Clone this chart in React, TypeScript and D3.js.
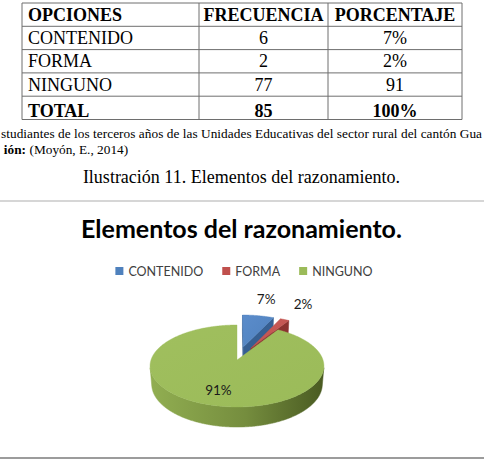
import React from "react";
import * as d3 from "d3";

// ---------- data ----------
const tableHeaders = ["OPCIONES", "FRECUENCIA", "PORCENTAJE"];
const options = ["CONTENIDO", "FORMA", "NINGUNO"];
const frequencies = ["6", "2", "77"];
const percentages = ["7%", "2%", "91"];
const totalRow = ["TOTAL", "85", "100%"];

const pieCategories = ["CONTENIDO", "FORMA", "NINGUNO"];
const pieValues = [7, 2, 91];
const pieLabels = ["7%", "2%", "91%"];

const sourceText =
  "studiantes  de los terceros años de las Unidades Educativas del sector rural del cantón Gua";
const authorLabel = "ión:";
const authorText = "(Moyón, E., 2014)";
const figureCaption = "Ilustración 11. Elementos del razonamiento.";
const chartTitle = "Elementos del razonamiento.";

// ---------- style / layout ----------
const W = 484;
const H = 468;
const topColors = ["#4F81BD", "#C0504D", "#9BBB59"];
const topColorsLight = ["#5b8ccb", "#c95d5a", "#a0bf5e"];
const wallColors = ["#365f92", "#8c3230", "#6f8a3c"];
const sideStops = [
  ["#4a78b0", "#2f5283"],
  ["#b04845", "#7e2c2a"],
  ["#91ae51", "#4a5b22"],
];
const explode = [0.35, 0.35, 0];
const labelR = [1.65, 1.65, 0.7];

const PIE = { cx: 237, cy: 360, rx: 86, dist: 6.05, sinPhi: 0.4665, depth: 0.2415 };
const cosPhi = Math.sqrt(1 - PIE.sinPhi * PIE.sinPhi);
const FOC = PIE.rx * PIE.dist;

function proj(x: number, y: number, z: number): [number, number] {
  const zp = PIE.dist - y * PIE.sinPhi + z * cosPhi;
  const yp = y * cosPhi + z * PIE.sinPhi;
  return [PIE.cx + (FOC * x) / zp, PIE.cy - (FOC * yp) / zp];
}

const line = d3.line<[number, number]>();

function buildSlices() {
  const arcs = d3
    .pie<number>()
    .sort(null)
    .value((d) => d)
    .startAngle(0)
    .endAngle(2 * Math.PI)(pieValues);
  return arcs.map((a, i) => {
    const a0 = a.startAngle;
    const a1 = a.endAngle;
    const m = (a0 + a1) / 2;
    const e = explode[i];
    const ox = e * Math.sin(m);
    const oz = e * Math.cos(m);
    const rim = (t: number, y: number) => proj(Math.sin(t) + ox, y, Math.cos(t) + oz);
    const ctr = (y: number) => proj(ox, y, oz);
    const n = Math.max(2, Math.ceil((a1 - a0) / (Math.PI / 360)));
    const ts = d3.range(n + 1).map((k) => a0 + ((a1 - a0) * k) / n);
    const top = line([ctr(0), ...ts.map((t) => rim(t, 0))]) + "Z";
    const d = -PIE.depth;
    const Dc = PIE.dist * cosPhi;
    const walls: string[] = [];
    let run: number[] = [];
    const flush = () => {
      if (run.length > 1) {
        const pts = [
          ...run.map((t) => rim(t, 0)),
          ...run
            .slice()
            .reverse()
            .map((t) => rim(t, d)),
        ];
        walls.push(line(pts as [number, number][]) + "Z");
      }
      run = [];
    };
    ts.forEach((t) => {
      const vis = -1 - ox * Math.sin(t) - (Dc + oz) * Math.cos(t) > 0;
      if (vis) run.push(t);
      else flush();
    });
    flush();
    const radial: string[] = [];
    const startVis = ox * Math.cos(a0) - (Dc + oz) * Math.sin(a0) > 1e-6;
    const endVis = -ox * Math.cos(a1) + (Dc + oz) * Math.sin(a1) > 1e-6;
    if (startVis) radial.push(line([ctr(0), rim(a0, 0), rim(a0, d), ctr(d)]) + "Z");
    if (endVis) radial.push(line([ctr(0), rim(a1, 0), rim(a1, d), ctr(d)]) + "Z");
    const lr = labelR[i] + e;
    const lp = proj(lr * Math.sin(m), 0, lr * Math.cos(m));
    return { i, top, walls, radial, lp };
  });
}

function measure(text: string, font: string) {
  const c = document.createElement("canvas").getContext("2d");
  if (!c) return text.length * 7;
  c.font = font;
  return c.measureText(text).width;
}

export default function App() {
  const slices = buildSlices();
  const drawOrder = [0, 1, 2];

  const colEdges = [22, 199, 328, 462];
  const rowScale = d3.scaleBand<number>().domain(d3.range(5)).range([3, 119.5]).paddingInner(0);
  const rows = [tableHeaders, ...options.map((o, i) => [o, frequencies[i], percentages[i]]), totalRow];
  const serif = "'Liberation Serif', 'Times New Roman', serif";

  const legendFont = "12.5px Lato";
  const sw = 8;
  const gapText = 5;
  const gapItems = 19;
  const widths = pieCategories.map((c) => sw + gapText + measure(c, legendFont));
  const totalW = d3.sum(widths) + gapItems * (widths.length - 1);
  let lx = 244 - totalW / 2;
  const legendItems = pieCategories.map((c, i) => {
    const x = lx;
    lx += widths[i] + gapItems;
    return { c, x, i };
  });

  return (
    <svg
      width={W}
      height={H}
      style={{ position: "absolute", left: 0, top: 0, background: "#fff" }}
    >
      <defs>
        {sideStops.map((s, i) => (
          <linearGradient
            key={i}
            id={`side${i}`}
            gradientUnits="userSpaceOnUse"
            x1={PIE.cx - PIE.rx}
            x2={PIE.cx + PIE.rx}
            y1={0}
            y2={0}
          >
            <stop offset="0" stopColor={s[0]} />
            <stop offset="0.55" stopColor={d3.interpolateRgb(s[0], s[1])(0.4)} />
            <stop offset="1" stopColor={s[1]} />
          </linearGradient>
        ))}
        {topColors.map((c, i) => (
          <linearGradient key={i} id={`top${i}`} x1="0" y1="0" x2="1" y2="1">
            <stop offset="0" stopColor={topColorsLight[i]} />
            <stop offset="1" stopColor={c} />
          </linearGradient>
        ))}
      </defs>
      <rect x={0} y={0} width={W} height={H} fill="#fff" />

      {/* table */}
      <g fontFamily={serif} fontSize={18} fill="#000">
        {rows.map((r, ri) => {
          const y0 = rowScale(ri)!;
          const y1 = y0 + rowScale.bandwidth();
          const bold = ri === 0 || ri === rows.length - 1;
          const base = ri === rows.length - 1 ? y1 - 3 : y1 - 5.5;
          return (
            <g key={ri} fontWeight={bold ? "bold" : "normal"}>
              {r.map((cell, ci) => {
                const x = ci === 0 ? colEdges[0] + 6 : (colEdges[ci] + colEdges[ci + 1]) / 2;
                return (
                  <text key={ci} x={x} y={base} textAnchor={ci === 0 ? "start" : "middle"}>
                    {cell}
                  </text>
                );
              })}
            </g>
          );
        })}
        {d3.range(6).map((k) => {
          const y = k < 5 ? rowScale(k)! : rowScale(4)! + rowScale.bandwidth();
          return (
            <line key={k} x1={colEdges[0]} x2={colEdges[3]} y1={y} y2={y} stroke="#6e6e6e" strokeWidth={1} />
          );
        })}
        {colEdges.map((x, k) => (
          <line key={k} x1={x} x2={x} y1={rowScale(0)!} y2={rowScale(4)! + rowScale.bandwidth()} stroke="#6e6e6e" strokeWidth={1} />
        ))}
      </g>

      {/* source lines */}
      <g fontFamily={serif} fontSize={13.3} fill="#000">
        <text x={1} y={138} textLength={481} lengthAdjust="spacing">
          {sourceText}
        </text>
        <text x={26} y={154} textAnchor="end" fontWeight="bold">
          {authorLabel}
        </text>
        <text x={29.5} y={154}>
          {authorText}
        </text>
      </g>
      <text x={241.5} y={183} textAnchor="middle" fontFamily={serif} fontSize={18} fill="#000">
        {figureCaption}
      </text>

      {/* chart frame lines */}
      <line x1={0} x2={W} y1={201} y2={201} stroke="#d6d6d6" strokeWidth={2} />
      <line x1={0} x2={W} y1={458} y2={458} stroke="#9c9c9c" strokeWidth={2} />

      {/* chart title */}
      <text x={241.5} y={238} textAnchor="middle" fontFamily="Lato, 'Open Sans', sans-serif" fontWeight="bold" fontSize={25} fill="#000">
        {chartTitle}
      </text>

      {/* legend */}
      <g fontFamily="Lato, sans-serif" fontSize={12.5} fill="#404040">
        {legendItems.map(({ c, x, i }) => (
          <g key={c}>
            <rect x={x} y={267} width={sw} height={sw} fill={topColors[i]} />
            <text x={x + sw + gapText} y={275.5}>
              {c}
            </text>
          </g>
        ))}
      </g>

      {/* 3D pie */}
      <g>
        {drawOrder.map((i) => {
          const s = slices[i];
          return (
            <g key={i}>
              {s.walls.map((p, k) => (
                <path key={"w" + k} d={p} fill={`url(#side${i})`} stroke={`url(#side${i})`} strokeWidth={0.5} />
              ))}
              {s.radial.map((p, k) => (
                <path key={"r" + k} d={p} fill={wallColors[i]} stroke={wallColors[i]} strokeWidth={0.5} />
              ))}
              <path d={s.top} fill={`url(#top${i})`} stroke={topColors[i]} strokeWidth={0.4} />
            </g>
          );
        })}
      </g>

      {/* labels */}
      <g fontFamily="Lato, sans-serif" fontSize={13.5} fill="#1a1a1a" textAnchor="middle">
        {slices.map((s) => (
          <text key={s.i} x={s.lp[0]} y={s.lp[1]} dy="0.36em">
            {pieLabels[s.i]}
          </text>
        ))}
      </g>
    </svg>
  );
}
